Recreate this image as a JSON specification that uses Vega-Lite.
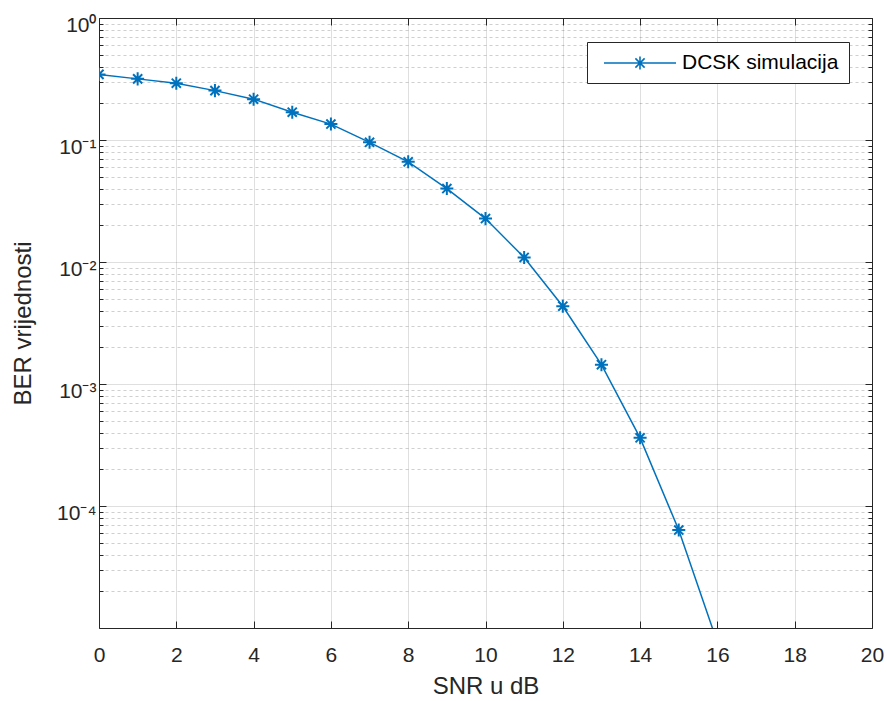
{
  "$schema": "https://vega.github.io/schema/vega-lite/v6.json",
  "width": 773,
  "height": 610,
  "autosize": "none",
  "padding": {"left": 99, "top": 18, "right": 15, "bottom": 73},
  "background": "white",
  "config": {
    "view": {"stroke": null},
    "font": "Liberation Sans",
    "axis": {
      "domainColor": "#262626",
      "domainWidth": 1,
      "tickColor": "#262626",
      "tickWidth": 1,
      "labelColor": "#262626",
      "titleColor": "#262626",
      "labelFont": "Liberation Sans",
      "titleFont": "Liberation Sans",
      "labelFontSize": 21,
      "titleFontSize": 24,
      "titleFontWeight": "normal",
      "gridColor": "#262626",
      "gridOpacity": 0.15
    }
  },
  "data": {
    "values": [
      {"snr": 0, "ber": 0.345, "series": "DCSK simulacija"},
      {"snr": 1, "ber": 0.317, "series": "DCSK simulacija"},
      {"snr": 2, "ber": 0.292, "series": "DCSK simulacija"},
      {"snr": 3, "ber": 0.254, "series": "DCSK simulacija"},
      {"snr": 4, "ber": 0.216, "series": "DCSK simulacija"},
      {"snr": 5, "ber": 0.169, "series": "DCSK simulacija"},
      {"snr": 6, "ber": 0.135, "series": "DCSK simulacija"},
      {"snr": 7, "ber": 0.0957, "series": "DCSK simulacija"},
      {"snr": 8, "ber": 0.0663, "series": "DCSK simulacija"},
      {"snr": 9, "ber": 0.040, "series": "DCSK simulacija"},
      {"snr": 10, "ber": 0.0227, "series": "DCSK simulacija"},
      {"snr": 11, "ber": 0.0109, "series": "DCSK simulacija"},
      {"snr": 12, "ber": 0.00434, "series": "DCSK simulacija"},
      {"snr": 13, "ber": 0.00144, "series": "DCSK simulacija"},
      {"snr": 14, "ber": 0.000362, "series": "DCSK simulacija"},
      {"snr": 15, "ber": 0.0000635, "series": "DCSK simulacija"},
      {"snr": 16, "ber": 0.0000076, "series": "DCSK simulacija"}
    ]
  },
  "layer": [
    {
      "mark": {"type": "line", "clip": true, "strokeWidth": 1.5},
      "encoding": {
        "x": {
          "field": "snr", "type": "quantitative",
          "scale": {"domain": [0, 20], "nice": false, "zero": false},
          "axis": {
            "orient": "bottom",
            "values": [0, 2, 4, 6, 8, 10, 12, 14, 16, 18, 20],
            "grid": true,
            "tickSize": -7,
            "labelPadding": 23,
            "labelFlush": false,
            "title": "SNR u dB",
            "titlePadding": 9
          }
        },
        "y": {
          "field": "ber", "type": "quantitative",
          "scale": {"type": "log", "domain": [0.00001, 1], "nice": false},
          "axis": {
            "orient": "left",
            "values": [0.0001, 0.001, 0.01, 0.1, 1],
            "grid": true,
            "tickSize": -7,
            "labelPadding": 10,
            "labelBaseline": "middle",
            "labelOffset": 7,
            "labelFlush": false,
            "labelExpr": "'10' + (datum.value >= 0.9 ? '⁰' : datum.value >= 0.09 ? '⁻¹' : datum.value >= 0.009 ? '⁻²' : datum.value >= 0.0009 ? '⁻³' : datum.value >= 0.00009 ? '⁻⁴' : '⁻⁵')",
            "title": "BER vrijednosti",
            "titlePadding": 21
          }
        },
        "color": {
          "field": "series", "type": "nominal",
          "scale": {"range": ["#0072BD"]},
          "legend": {
            "title": null,
            "orient": "none",
            "legendX": 488,
            "legendY": 24,
            "padding": 10,
            "strokeColor": "#262626",
            "fillColor": "white",
            "symbolType": "M-0.4,0L6.8,0M2.55,0L3.85,0M3.2,-0.65L3.2,0.65M2.74,-0.46L3.66,0.46M2.74,0.46L3.66,-0.46",
            "symbolSize": 400,
            "symbolStrokeWidth": 1.6,
            "symbolFillColor": "transparent",
            "labelOffset": 63,
            "labelFontSize": 21,
            "labelFont": "Liberation Sans",
            "labelColor": "#000000"
          }
        }
      }
    },
    {
      "mark": {
        "type": "point",
        "clip": true,
        "filled": false,
        "shape": "M-1,0L1,0M0,-1L0,1M-0.7,-0.7L0.7,0.7M-0.7,0.7L0.7,-0.7",
        "size": 170,
        "strokeWidth": 2,
        "opacity": 1
      },
      "encoding": {
        "x": {
          "field": "snr", "type": "quantitative",
          "axis": {
            "orient": "top",
            "values": [0, 2, 4, 6, 8, 10, 12, 14, 16, 18, 20],
            "grid": false,
            "labels": false,
            "tickSize": -7,
            "title": null
          }
        },
        "y": {
          "field": "ber", "type": "quantitative",
          "axis": {
            "orient": "left",
            "values": [0.00002, 0.00003, 0.00004, 0.00005, 0.00006, 0.00007, 0.00008, 0.00009, 0.0002, 0.0003, 0.0004, 0.0005, 0.0006, 0.0007, 0.0008, 0.0009, 0.002, 0.003, 0.004, 0.005, 0.006, 0.007, 0.008, 0.009, 0.02, 0.03, 0.04, 0.05, 0.06, 0.07, 0.08, 0.09, 0.2, 0.3, 0.4, 0.5, 0.6, 0.7, 0.8, 0.9],
            "grid": true,
            "gridDash": [3, 3],
            "gridOpacity": 0.22,
            "labels": false,
            "tickSize": -4,
            "domain": false,
            "title": null
          }
        },
        "color": {"value": "#0072BD"}
      }
    },
    {
      "mark": {"type": "point", "opacity": 0, "clip": true},
      "encoding": {
        "x": {"field": "snr", "type": "quantitative", "axis": null},
        "y": {
          "field": "ber", "type": "quantitative",
          "axis": {
            "orient": "right",
            "values": [0.0001, 0.001, 0.01, 0.1, 1],
            "grid": false,
            "labels": false,
            "tickSize": -7,
            "title": null
          }
        }
      }
    },
    {
      "mark": {"type": "point", "opacity": 0, "clip": true},
      "encoding": {
        "x": {"field": "snr", "type": "quantitative", "axis": null},
        "y": {
          "field": "ber", "type": "quantitative",
          "axis": {
            "orient": "right",
            "values": [0.00002, 0.00003, 0.00004, 0.00005, 0.00006, 0.00007, 0.00008, 0.00009, 0.0002, 0.0003, 0.0004, 0.0005, 0.0006, 0.0007, 0.0008, 0.0009, 0.002, 0.003, 0.004, 0.005, 0.006, 0.007, 0.008, 0.009, 0.02, 0.03, 0.04, 0.05, 0.06, 0.07, 0.08, 0.09, 0.2, 0.3, 0.4, 0.5, 0.6, 0.7, 0.8, 0.9],
            "grid": false,
            "labels": false,
            "tickSize": -4,
            "domain": false,
            "title": null
          }
        }
      }
    }
  ],
  "resolve": {"axis": {"x": "independent", "y": "independent"}}
}
